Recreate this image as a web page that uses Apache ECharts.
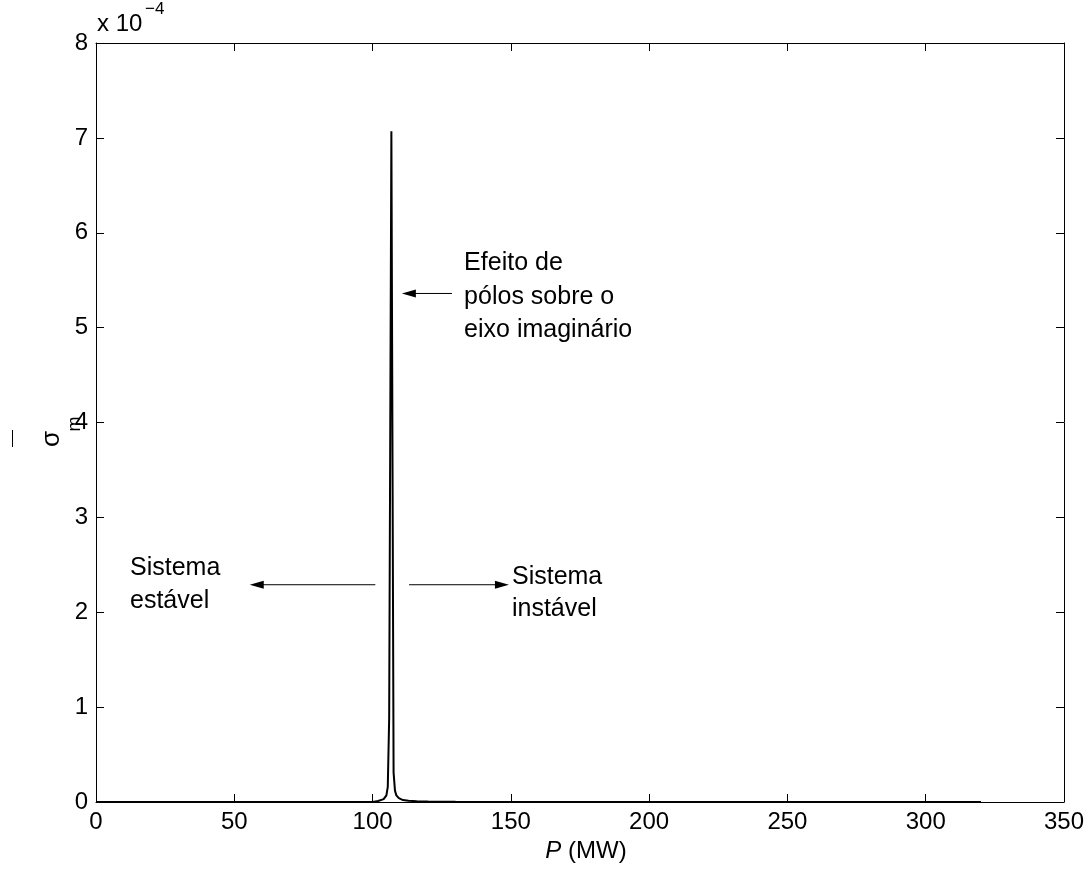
<!DOCTYPE html>
<html>
<head>
<meta charset="utf-8">
<script src="https://cdn.jsdelivr.net/npm/echarts@6/dist/echarts.min.js"></script>
<style>
  html, body { margin: 0; padding: 0; background: #fff; }
  #chart { width: 1091px; height: 872px; }
</style>
</head>
<body>
<div id="chart"></div>
<script>
// Active power P (MW) and sigma_m (in units of 1e-4)
const powerMW = [0, 50, 100, 102, 104, 105, 105.5, 106, 106.8, 107.6, 108.1, 108.6, 109.5, 111, 113, 116, 120, 130, 150, 200, 260, 320];
const sigmaM  = [0, 0, 0.0, 0.01, 0.03, 0.07, 0.16, 0.88, 7.07, 0.31, 0.12, 0.07, 0.04, 0.02, 0.012, 0.007, 0.004, 0.002, 0.0008, 0.0002, 0, 0];

const xTicks = { min: 0, max: 350, step: 50 };
const yTicks = { min: 0, max: 8, step: 1 };

const FONT = 'Liberation Sans, Arial, sans-serif';
const chart = echarts.init(document.getElementById('chart'), null, { renderer: 'canvas' });

const axisLine = { show: true, onZero: false, lineStyle: { color: '#000', width: 1 } };
const tick = { show: true, inside: true, length: 8, lineStyle: { color: '#000', width: 1 } };

chart.setOption({
  animation: false,
  backgroundColor: '#fff',
  grid: { left: 96, right: 27, top: 43, bottom: 70, containLabel: false },
  xAxis: [
    {
      type: 'value', position: 'bottom', min: xTicks.min, max: xTicks.max, interval: xTicks.step,
      axisLine, axisTick: tick, splitLine: { show: false },
      axisLabel: { color: '#000', fontFamily: FONT, fontSize: 24, margin: 8 },
      name: '{i|P} (MW)', nameLocation: 'middle', nameGap: 19,
      nameTextStyle: { color: '#000', fontFamily: FONT, fontSize: 24, padding: [0, 0, 0, 12],
        rich: { i: { fontStyle: 'italic', fontFamily: FONT, fontSize: 24, color: '#000' } } }
    },
    {
      type: 'value', position: 'top', min: xTicks.min, max: xTicks.max, interval: xTicks.step,
      axisLine, axisTick: tick, axisLabel: { show: false }, splitLine: { show: false }
    }
  ],
  yAxis: [
    {
      type: 'value', position: 'left', min: yTicks.min, max: yTicks.max, interval: yTicks.step,
      axisLine, axisTick: tick, splitLine: { show: false },
      axisLabel: { color: '#000', fontFamily: FONT, fontSize: 24, margin: 8 }
    },
    {
      type: 'value', position: 'right', min: yTicks.min, max: yTicks.max, interval: yTicks.step,
      axisLine, axisTick: tick, axisLabel: { show: false }, splitLine: { show: false }
    }
  ],
  series: [{
    type: 'line',
    data: powerMW.map((p, i) => [p, sigmaM[i]]),
    showSymbol: false,
    lineStyle: { color: '#000', width: 2 },
    clip: true
  }]
});

// Annotations placed in data coordinates
function px(p, v) { return chart.convertToPixel({ xAxisIndex: 0, yAxisIndex: 0 }, [p, v]); }

function arrow(from, to) {
  const a = px(from[0], from[1]), b = px(to[0], to[1]);
  const dir = Math.sign(b[0] - a[0]);
  const headLen = 14, headHalf = 4;
  return [
    { type: 'line', shape: { x1: a[0], y1: a[1], x2: b[0] - dir * headLen * 0.6, y2: b[1] },
      style: { stroke: '#000', lineWidth: 1 } },
    { type: 'polygon',
      shape: { points: [[b[0], b[1]], [b[0] - dir * headLen, b[1] - headHalf], [b[0] - dir * headLen, b[1] + headHalf]] },
      style: { fill: '#000' } }
  ];
}

// each line of a note is centred on its own data height
function note(p, vs, lines) {
  return lines.map((t, i) => {
    const c = px(p, vs[i]);
    return { type: 'text', x: c[0], y: c[1],
      style: { text: t, fill: '#000', font: '25px ' + FONT, align: 'left', verticalAlign: 'middle' } };
  });
}

const yl = chart.getModel().getComponent('grid').coordinateSystem.getRect();

chart.setOption({
  graphic: [
    ...arrow([128.7, 5.36], [110.6, 5.36]),
    ...arrow([101.0, 2.29], [55.6, 2.29]),
    ...arrow([113.2, 2.29], [149.3, 2.29]),
    ...note(133.1, [5.68, 5.32, 4.97], ['Efeito de', 'pólos sobre o', 'eixo imaginário']),
    ...note(12.3, [2.46, 2.12], ['Sistema', 'estável']),
    ...note(150.4, [2.37, 2.03], ['Sistema', 'instável']),
    // exponent of the y axis
    { type: 'text', x: yl.x + 1, y: 24,
      style: { text: 'x 10', fill: '#000', font: '24px ' + FONT, verticalAlign: 'middle' } },
    { type: 'text', x: yl.x + 49, y: 9,
      style: { text: '−4', fill: '#000', font: '17px ' + FONT, verticalAlign: 'middle' } },
    // y axis name: sigma with subscript m, reading upwards
    { type: 'text', x: 52, y: 439, rotation: Math.PI / 2,
      style: { text: 'σ', fill: '#000', font: '26px ' + FONT, align: 'center', verticalAlign: 'middle' } },
    { type: 'text', x: 75, y: 424, rotation: Math.PI / 2,
      style: { text: 'm', fill: '#000', font: '18px ' + FONT, align: 'center', verticalAlign: 'middle' } },
    { type: 'line', shape: { x1: 12.5, y1: 430, x2: 12.5, y2: 447 }, style: { stroke: '#000', lineWidth: 1 } }
  ]
});
</script>
</body>
</html>
